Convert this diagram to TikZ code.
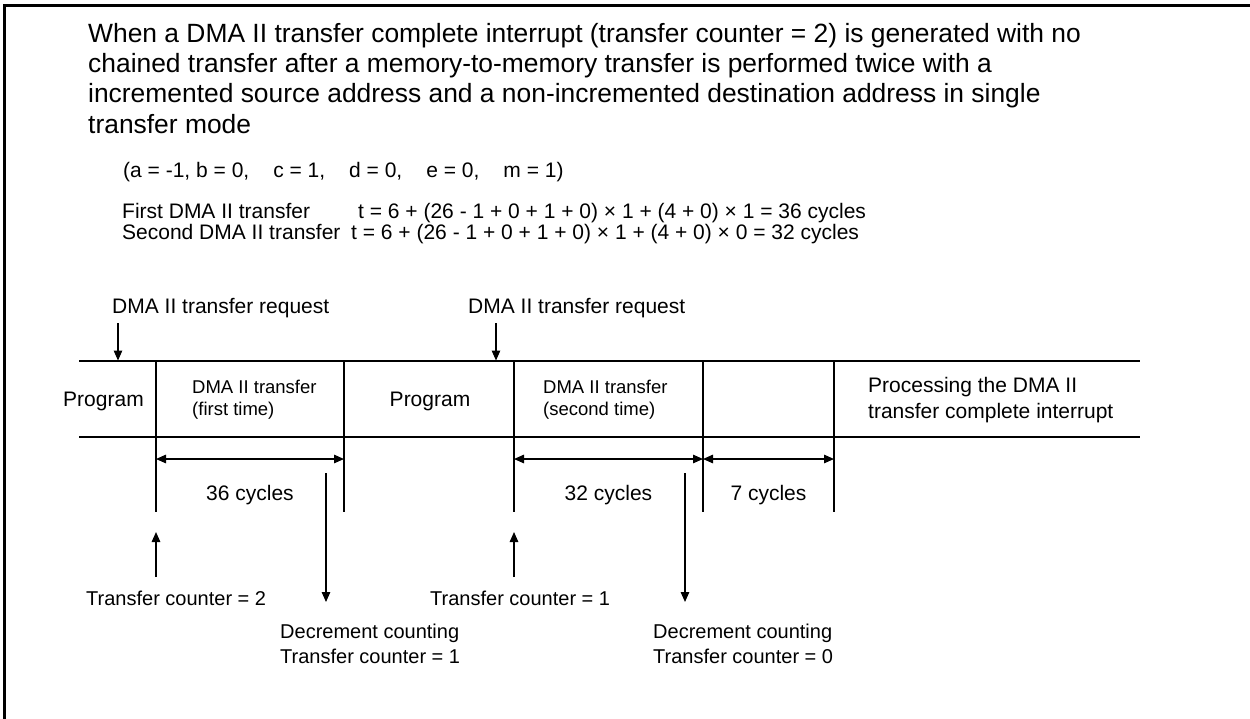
\documentclass[tikz,border=0pt]{standalone}
\usepackage{fontspec}
\setmainfont{Liberation Sans}
\usetikzlibrary{arrows.meta}
\begin{document}
\begin{tikzpicture}[x=1pt,y=-1pt,
  head/.style={inner sep=0pt, anchor=base west, font=\fontsize{26.4}{30}\selectfont},
  txt/.style={inner sep=0pt, font=\fontsize{21}{25}\selectfont},
  small/.style={inner sep=0pt, anchor=base west, font=\fontsize{18.5}{22}\selectfont},
  lbl/.style={inner sep=0pt, anchor=base west, font=\fontsize{20}{24}\selectfont},
  ln/.style={line width=1.3pt},
  arr/.style={line width=1.3pt, -{Triangle[length=10pt,width=8.5pt]}},
  dimarr/.style={line width=1.3pt, {Triangle[length=10pt,width=8.5pt]}-{Triangle[length=10pt,width=8.5pt]}},
  frameline/.style={line width=2.4pt}]
\useasboundingbox (0,0) rectangle (1250,718);
\fill[white] (0,0) rectangle (1250,718);
% frame
\coordinate (fa) at (4.5,720);
\coordinate (fb) at (4.5,5.3);
\coordinate (fc) at (1252,5.3);
\draw[frameline] (fa) -- (fb) -- (fc);
% heading
\node[head] (h1) at (88,42.3) {When a DMA II transfer complete interrupt (transfer counter = 2) is generated with no};
\node[head] (h2) at (88,72.6) {chained transfer after a memory-to-memory transfer is performed twice with a};
\node[head] (h3) at (88,102.9) {incremented source address and a non-incremented destination address in single};
\node[head] (h4) at (88,133.2) {transfer mode};
% parameters
\node[txt, anchor=base west] (par) at (123,177.5) {(a = -1, b = 0,\hspace{24pt}c = 1,\hspace{24pt}d = 0,\hspace{24pt}e = 0,\hspace{24pt}m = 1)};
\node[txt, anchor=base west] (fst) at (122,218) {First DMA II transfer};
\node[txt, anchor=base west] (fstf) at (358,218) {t = 6 + (26 - 1 + 0 + 1 + 0) × 1 + (4 + 0) × 1 = 36 cycles};
\node[txt, anchor=base west] (snd) at (122,239) {Second DMA II transfer};
\node[txt, anchor=base west] (sndf) at (351,239) {t = 6 + (26 - 1 + 0 + 1 + 0) × 1 + (4 + 0) × 0 = 32 cycles};
% requests
\node[txt, anchor=base west] (req1) at (112,313.5) {DMA II transfer request};
\node[txt, anchor=base west] (req2) at (468,313.5) {DMA II transfer request};
\coordinate (r1s) at (118,323); \coordinate (r1e) at (118,360.5);
\coordinate (r2s) at (496,323); \coordinate (r2e) at (496,360.5);
\draw[arr] (r1s) -- (r1e);
\draw[arr] (r2s) -- (r2e);
% timeline lines
\coordinate (tl) at (79,361); \coordinate (tr) at (1140,361);
\coordinate (bl) at (79,437); \coordinate (br) at (1140,437);
\draw[ln] (tl) -- (tr);
\draw[ln] (bl) -- (br);
\foreach \n/\x in {a/156,b/344,c/514,d/703,e/834}{
  \coordinate (v\n t) at (\x,361);
  \coordinate (v\n b) at (\x,512);
  \coordinate (v\n m) at (\x,459);
  \draw[ln] (v\n t) -- (v\n b);
}
% segment labels
\node[txt, anchor=base] (prog1) at (103.5,406) {Program};
\node[small] (dma1a) at (192,393) {DMA II transfer};
\node[small] (dma1b) at (192,415) {(first time)};
\node[txt, anchor=base] (prog2) at (430,406) {Program};
\node[small] (dma2a) at (543,393) {DMA II transfer};
\node[small] (dma2b) at (543,415) {(second time)};
\node[txt, anchor=base west] (proc1) at (868,392) {Processing the DMA II};
\node[txt, anchor=base west] (proc2) at (868,418) {transfer complete interrupt};
% dimensions
\draw[dimarr] (vam) -- (vbm);
\draw[dimarr] (vcm) -- (vdm);
\draw[dimarr] (vdm) -- (vem);
\node[txt, anchor=base] (c36) at (250,500) {36 cycles};
\node[txt, anchor=base] (c32) at (608.5,500) {32 cycles};
\node[txt, anchor=base] (c7) at (768.5,500) {7 cycles};
% counter arrows
\coordinate (u1s) at (156,577); \coordinate (u1e) at (156,532);
\coordinate (u2s) at (514,577); \coordinate (u2e) at (514,532);
\draw[arr] (u1s) -- (u1e);
\draw[arr] (u2s) -- (u2e);
\coordinate (d1s) at (326,473); \coordinate (d1e) at (326,602);
\coordinate (d2s) at (685,473); \coordinate (d2e) at (685,602);
\draw[arr] (d1s) -- (d1e);
\draw[arr] (d2s) -- (d2e);
% counter labels
\node[lbl] (tc2) at (86,605) {Transfer counter = 2};
\node[lbl] (tc1) at (430,605) {Transfer counter = 1};
\node[lbl] (dec1a) at (280,638) {Decrement counting};
\node[lbl] (dec1b) at (280,663) {Transfer counter = 1};
\node[lbl] (dec2a) at (653,638) {Decrement counting};
\node[lbl] (dec2b) at (653,663) {Transfer counter = 0};
\end{tikzpicture}
\end{document}
